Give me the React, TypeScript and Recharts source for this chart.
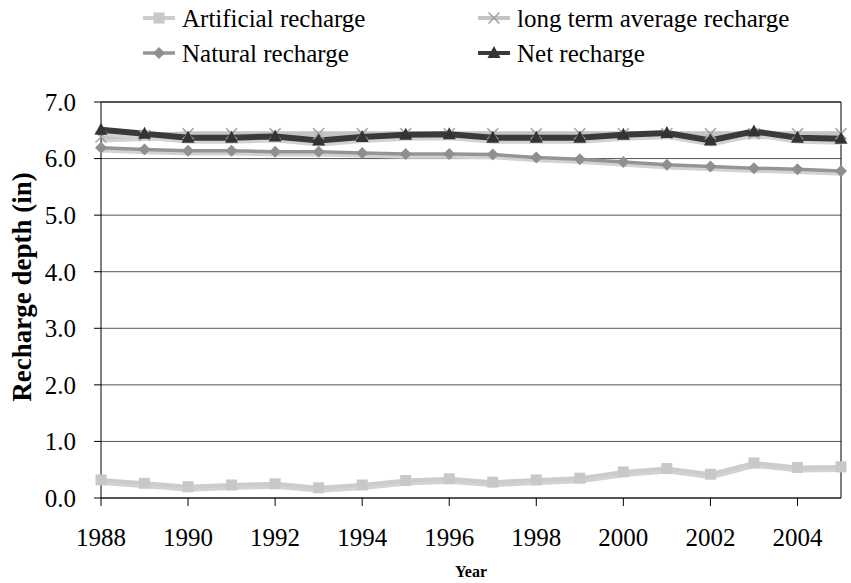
import React from 'react'
import { CartesianGrid, Label, Line, LineChart, ReferenceLine, XAxis, YAxis } from 'recharts'

const years = [1988, 1989, 1990, 1991, 1992, 1993, 1994, 1995, 1996, 1997, 1998, 1999, 2000, 2001, 2002, 2003, 2004, 2005]
const artificialRecharge = [0.32, 0.26, 0.2, 0.23, 0.25, 0.18, 0.23, 0.31, 0.34, 0.28, 0.32, 0.35, 0.46, 0.52, 0.42, 0.62, 0.54, 0.55]
const naturalRecharge = [6.19, 6.16, 6.14, 6.14, 6.12, 6.12, 6.1, 6.08, 6.08, 6.07, 6.02, 5.99, 5.94, 5.89, 5.86, 5.83, 5.81, 5.78]
const longTermAverage = [6.38, 6.41, 6.44, 6.44, 6.44, 6.44, 6.44, 6.44, 6.44, 6.44, 6.44, 6.44, 6.44, 6.44, 6.44, 6.44, 6.44, 6.44]
const netRecharge = [6.51, 6.44, 6.37, 6.37, 6.39, 6.32, 6.38, 6.42, 6.43, 6.37, 6.37, 6.37, 6.42, 6.45, 6.32, 6.48, 6.37, 6.35]
const xTicks = [1988, 1990, 1992, 1994, 1996, 1998, 2000, 2002, 2004]
const yTicks = [0, 1, 2, 3, 4, 5, 6, 7]

const chartData = years.map((year, i) => ({
  year,
  artificial: artificialRecharge[i],
  longTerm: longTermAverage[i],
  natural: naturalRecharge[i],
  net: netRecharge[i]
}))

const font = '"Liberation Serif", "Times New Roman", serif'

type Marker = (cx: number, cy: number, key?: string | number) => JSX.Element

const square: Marker = (cx, cy, key) => (
  <rect key={key} x={cx - 5.5} y={cy - 5.5} width={11} height={11} fill="#c8c8c8" />
)
const diamond: Marker = (cx, cy, key) => (
  <polygon
    key={key}
    points={`${cx},${cy - 6} ${cx + 6},${cy} ${cx},${cy + 6} ${cx - 6},${cy}`}
    fill="#8f8f8f"
  />
)
const cross: Marker = (cx, cy, key) => (
  <g key={key} stroke="#a0a0a0" strokeWidth={1.5}>
    <line x1={cx - 5.5} y1={cy - 5.5} x2={cx + 5.5} y2={cy + 5.5} />
    <line x1={cx - 5.5} y1={cy + 5.5} x2={cx + 5.5} y2={cy - 5.5} />
  </g>
)
const triangle: Marker = (cx, cy, key) => (
  <polygon
    key={key}
    points={`${cx},${cy - 7} ${cx + 6.5},${cy + 5} ${cx - 6.5},${cy + 5}`}
    fill="#333333"
  />
)

interface SeriesDef {
  key: string
  name: string
  color: string
  width: number
  marker: Marker
}

// drawing order: later ones sit on top
const series: SeriesDef[] = [
  { key: 'artificial', name: 'Artificial recharge', color: '#cccccc', width: 4, marker: square },
  { key: 'longTerm', name: 'long term average recharge', color: '#c4c4c4', width: 5, marker: cross },
  { key: 'natural', name: 'Natural recharge', color: '#959595', width: 3.5, marker: diamond },
  { key: 'net', name: 'Net recharge', color: '#3a3a3a', width: 6, marker: triangle }
]

const legendOrder = ['artificial', 'longTerm', 'natural', 'net']
const legendSpots = [
  { x: 143, y: 18 },
  { x: 478, y: 18 },
  { x: 143, y: 53 },
  { x: 478, y: 53 }
]

function ChartLegend(): JSX.Element {
  return (
    <svg width={851} height={80} style={{ position: 'absolute', left: 0, top: 0 }}>
      {legendOrder.map((k, i) => {
        const s = series.find((d) => d.key === k) as SeriesDef
        const p = legendSpots[i]
        return (
          <g key={k}>
            <line x1={p.x} y1={p.y} x2={p.x + 32} y2={p.y} stroke={s.color} strokeWidth={Math.min(s.width, 4)} />
            {s.marker(p.x + 16, p.y)}
            <text x={p.x + 39} y={p.y + 9} fontFamily={font} fontSize={25} fill="#000">
              {s.name}
            </text>
          </g>
        )
      })}
    </svg>
  )
}

const renderYTitle = (props: any): JSX.Element => {
  const vb = props.viewBox
  const cx = 22
  const cy = vb.y + vb.height / 2 - 13
  return (
    <text
      x={cx}
      y={cy}
      transform={`rotate(-90, ${cx}, ${cy})`}
      textAnchor="middle"
      dominantBaseline="central"
      fontFamily={font}
      fontWeight="bold"
      fontSize={27}
      fill="#000"
    >
      Recharge depth (in)
    </text>
  )
}

const shadowCss = `
.series-shadow { filter: drop-shadow(1px 3px 0px #d2d2d2); }
`

export default function App(): JSX.Element {
  return (
    <div style={{ position: 'absolute', left: 0, top: 0, width: 851, height: 583, background: '#fff' }}>
      <style>{shadowCss}</style>
      <ChartLegend />
      <LineChart width={851} height={583} data={chartData} margin={{ top: 102, right: 10, bottom: 0, left: 0 }}>
        <CartesianGrid horizontal vertical={false} stroke="#555" />
        <XAxis
          dataKey="year"
          type="number"
          domain={[1988, 2005]}
          ticks={xTicks}
          interval={0}
          height={85}
          tickSize={8}
          tickMargin={22}
          stroke="#000"
          tick={{ fill: '#000', fontFamily: font, fontSize: 25 }}
          padding={{ left: 0, right: 0 }}
        >
          <Label
            value="Year"
            position="insideBottom"
            offset={6}
            style={{ fontFamily: font, fontWeight: 'bold', fontSize: 16, fill: '#000' }}
          />
        </XAxis>
        <YAxis
          domain={[0, 7]}
          ticks={yTicks}
          width={101}
          tickSize={7}
          tickMargin={18}
          stroke="#000"
          tickFormatter={(v: number) => v.toFixed(1)}
          tick={{ fill: '#000', fontFamily: font, fontSize: 25 }}
        >
          <Label content={renderYTitle} />
        </YAxis>
        <ReferenceLine x={2005} stroke="#000" />
        <ReferenceLine y={7} stroke="#000" />
        {series.map((s) => (
          <Line
            key={s.key}
            className="series-shadow"
            dataKey={s.key}
            name={s.name}
            stroke={s.color}
            strokeWidth={s.width}
            isAnimationActive={false}
            dot={(p: any) => s.marker(p.cx, p.cy, `${s.key}-${p.index}`)}
            activeDot={false}
          />
        ))}
      </LineChart>
    </div>
  )
}
